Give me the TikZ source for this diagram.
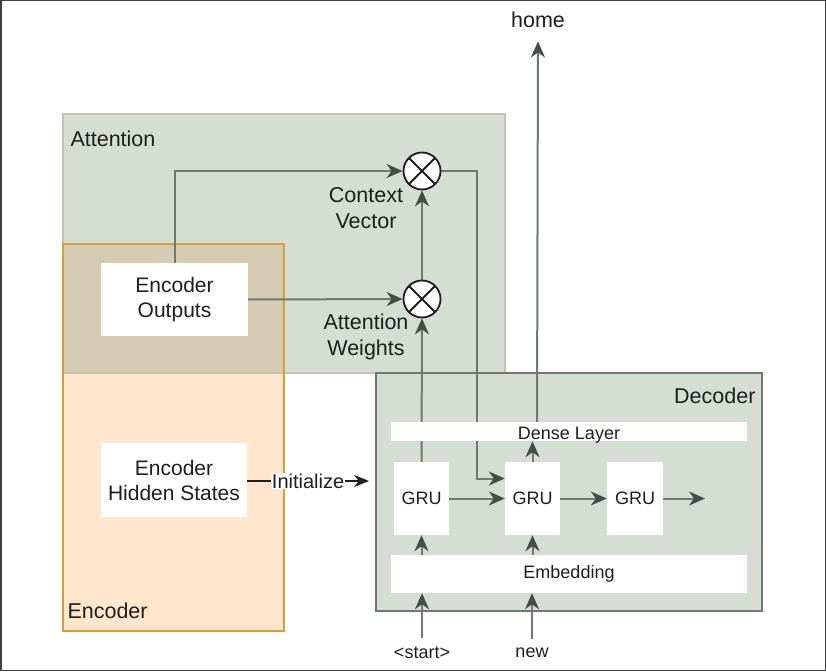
\documentclass[tikz,border=0pt]{standalone}
\usepackage{fontspec}
\setmainfont{Liberation Sans}
\usetikzlibrary{arrows.meta}
\pgfdeclarelayer{back}
\pgfdeclarelayer{wires}
\pgfsetlayers{back,wires,main}
\definecolor{panel}{RGB}{213,221,213}
\definecolor{attn}{RGB}{118,143,118}
\definecolor{peach}{RGB}{255,230,204}
\definecolor{amber}{RGB}{214,160,52}
\definecolor{tan}{RGB}{200,192,176}
\definecolor{wire}{RGB}{112,120,114}
\definecolor{tipgray}{RGB}{70,76,72}
\definecolor{ink}{RGB}{30,30,30}
\tikzset{
	block/.style={fill=white, inner sep=0pt, text=ink, align=center, font=\fontsize{21}{25}\selectfont},
	unit/.style={block, font=\fontsize{18}{21}\selectfont},
	caption/.style={text=ink, align=center, font=\fontsize{21.5}{25.5}\selectfont},
	mult/.style={circle, draw=ink, line width=1.8pt, fill=white, minimum size=37pt, inner sep=0pt,
		path picture={\draw[line width=1.8pt] (path picture bounding box.north west) -- (path picture bounding box.south east) (path picture bounding box.south west) -- (path picture bounding box.north east);}},
	wire/.style={draw=wire, line width=2pt, -{Stealth[length=16pt,width=14pt,inset=5pt,color=tipgray]}},
}

\begin{document}
\begin{tikzpicture}[x=1pt, y=-1pt]
		%%%%% START %%%%%
		\useasboundingbox (0, 0) rectangle (826, 671);
		
		% panels
		\begin{pgfonlayer}{back}
		\fill[white] (0, 0) rectangle (826, 671);
		\draw[line width=1.5pt, color=ink!85] (0.75, 0.75) rectangle (825.25, 670.25);
		\fill[peach] (63, 244) rectangle (284, 631);
		\draw[fill=attn, fill opacity=0.3, draw=tan, line width=1.5pt] (63, 114) rectangle (505, 373);
		\draw[amber, line width=1.5pt] (63, 244) rectangle (284, 631);
		\draw[fill=panel, draw=wire, line width=1.5pt] (376, 373) rectangle (762, 611);
		\end{pgfonlayer}
		
		\node[caption, anchor=west] (attlabel) at (67, 139) {Attention};
		\node[caption, anchor=west] (enclabel) at (64, 611) {Encoder};
		\node[caption, anchor=east] (declabel) at (759, 396) {Decoder};
		
		% encoder side
		\node[block, minimum width=147pt, minimum height=73pt] (eout) at (174.5, 299.5) {Encoder\\Outputs};
		\node[block, minimum width=146pt, minimum height=74pt] (ehid) at (174, 480) {Encoder\\Hidden States};
		
		% attention
		\node[mult] (ctx) at (422, 171) {};
		\node[mult] (wgt) at (422, 299) {};
		\node[caption] (ctxlabel) at (366, 208) {Context\\Vector};
		\node[caption] (wgtlabel) at (366, 337) {Attention\\Weights};
		
		% decoder
		\node[unit, minimum width=356pt, minimum height=19pt, text depth=0pt] (dense) at (569, 431.5) {\raisebox{-3pt}{Dense Layer}};
		\node[unit, minimum width=356pt, minimum height=38pt] (emb) at (569, 574) {Embedding};
		\node[unit, minimum width=55pt, minimum height=73pt] (gru1) at (421.5, 498.5) {GRU};
		\node[unit, minimum width=55pt, minimum height=73pt] (gru2) at (532.5, 498.5) {GRU};
		\node[unit, minimum width=56pt, minimum height=73pt] (gru3) at (635, 498.5) {GRU};
		
		\node[caption] (home) at (538, 20) {home};
		\node[unit, fill=none] (start) at (422, 653) {<start>};
		\node[unit, fill=none] (new) at (532, 653) {new};
		
		\coordinate (turn) at (477, 171);
		\coordinate (gout) at (705, 498.5);
		\coordinate (init) at (369, 481);
		\coordinate (homefoot) at (537, 422);
		
		% connectors
		\begin{pgfonlayer}{wires}
		\draw[wire] (eout.north) |- (ctx.west);
		\draw[wire] (eout.east) -- (wgt.west);
		\draw[wire] (wgt.north) -- (ctx.south);
		\draw[wire] (gru1.north) -- (wgt.south);
		\draw[wire] (ctx.east) -- (turn) |- ([yshift=20pt]gru2.west);
		\draw[wire] (homefoot) -- ([yshift=-10pt]home.south);
		\draw[wire] (gru1.east) -- (gru2.west);
		\draw[wire] (gru2.east) -- (gru3.west);
		\draw[wire] (gru3.east) -- (gout);
		\draw[wire] (gru2.north) -- (dense.south -| gru2.north);
		\draw[wire] (emb.north -| gru1.south) -- (gru1.south);
		\draw[wire] (emb.north -| gru2.south) -- (gru2.south);
		\draw[wire, shorten <=9pt] (start.north) -- (emb.south -| start.north);
		\draw[wire, shorten <=9pt] (new.north) -- (emb.south -| new.north);
		\draw[ink, line width=2pt, -{Stealth[length=15pt,width=12pt]}] (ehid.east |- init) -- node[fill=white, inner sep=1pt, text=ink, font=\fontsize{20}{24}\selectfont] (initlabel) {Initialize} (init);
		\end{pgfonlayer}
		%%%%% END %%%%%
	\end{tikzpicture}
\end{document}
